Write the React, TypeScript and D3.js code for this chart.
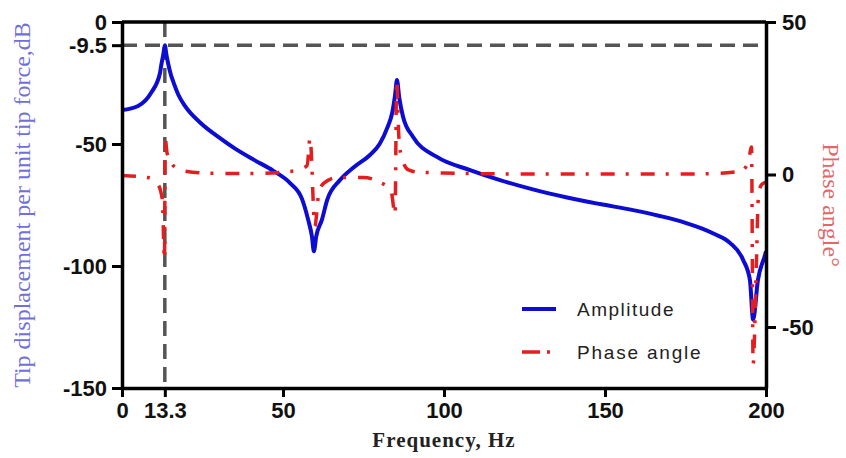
import React, { useEffect, useRef } from "react";
import * as d3 from "d3";

// amplitude curve (Hz, dB)
const ampFreq = [0, 5, 9, 11.8, 12.1, 12.9, 13.3, 13.8, 14.3, 15.2, 15.8, 17.5, 19.6, 24.5, 29.8, 35, 41, 47, 52.2, 55.9, 57.8, 59, 59.6, 60.3, 62.1, 63.7, 67.7, 72, 77, 80, 82.5, 83.9, 84.8, 85.4, 86.1, 87.3, 90.4, 97.8, 108.1, 117.4, 127.6, 138.2, 148.4, 158.7, 167, 175, 180, 184, 188.8, 192.9, 195, 196, 197.5, 199.7, 200];
const ampDb = [-36.1, -34.4, -29.1, -20.9, -18.4, -12.7, -9.5, -13.5, -16.8, -21.7, -24, -29.8, -34.5, -41.5, -47, -51.8, -56.5, -61, -66, -72.5, -81, -88, -94, -88, -81, -73, -64.8, -59.5, -54.5, -50, -43, -37.3, -30, -23.8, -31, -38.9, -47.1, -55.3, -60.7, -64.8, -68.6, -71.9, -74.6, -77.1, -79.5, -82.3, -84.6, -86.9, -90.5, -97.5, -105.7, -122, -105.7, -95.5, -94];

// phase angle curve (Hz, degrees)
const phaseFreq = [0, 8, 11, 12.5, 13.2, 13.4, 14, 15.5, 18, 25, 40, 50, 55, 57.5, 58.4, 59.9, 61, 62.5, 67, 75, 80, 83.5, 84.8, 85.3, 86, 87, 89, 92, 100, 120, 180, 192, 194.5, 195.5, 196, 197, 197.6, 198.5, 200];
const phaseDeg = [-0.3, -1, -3, -8, -28, 12, 7, 3.5, 1.5, 0.5, 0.3, 0.8, 1.5, 3, 12, -17, -7, -3, -1, -1, -2.5, -5, -13, 31, 12, 5, 1.5, 0.8, 0.5, 0.2, 0.2, 1, 4, 9, -62, -30, -8, -3.5, -2.5];

const freqTicks = [0, 13.3, 50, 100, 150, 200];
const ampTicks = [0, -9.5, -50, -100, -150];
const phaseTicks = [50, 0, -50];
const markFreq = 13.3;
const markAmp = -9.5;

const W = 846;
const H = 458;

export default function App() {
  const ref = useRef<SVGSVGElement>(null);

  useEffect(() => {
    const svg = d3.select(ref.current);
    svg.selectAll("*").remove();

    const left = 122, right = 766, top = 22, bottom = 388;
    const x = d3.scaleLinear().domain([0, 200]).range([left, right]);
    const yL = d3.scaleLinear().domain([-150, 0]).range([bottom, top]);
    const yR = d3.scaleLinear().domain([-70, 50]).range([bottom, top]);

    const tickFont = "'Liberation Sans', Arial, sans-serif";

    // reference dashed lines
    svg.append("line")
      .attr("x1", x(0)).attr("x2", x(200))
      .attr("y1", yL(markAmp)).attr("y2", yL(markAmp))
      .attr("stroke", "#555").attr("stroke-width", 3.5)
      .attr("stroke-dasharray", "15,8");
    svg.append("line")
      .attr("x1", x(markFreq)).attr("x2", x(markFreq))
      .attr("y1", yL(0)).attr("y2", yL(-150))
      .attr("stroke", "#555").attr("stroke-width", 3.5)
      .attr("stroke-dasharray", "15,8");

    // amplitude
    const ampLine = d3.line<number>()
      .x((_, i) => x(ampFreq[i]))
      .y(d => yL(d))
      .curve(d3.curveMonotoneX);
    svg.append("path")
      .attr("d", ampLine(ampDb))
      .attr("fill", "none")
      .attr("stroke", "#0c0cd2")
      .attr("stroke-width", 4)
      .attr("stroke-linejoin", "round");

    // phase
    const phaseLine = d3.line<number>()
      .x((_, i) => x(phaseFreq[i]))
      .y(d => yR(d))
      .curve(d3.curveMonotoneX);
    svg.append("path")
      .attr("d", phaseLine(phaseDeg))
      .attr("fill", "none")
      .attr("stroke", "#e41e1e")
      .attr("stroke-width", 3.5)
      .attr("stroke-dasharray", "14,11,3,12");

    // frame top
    svg.append("line")
      .attr("x1", left).attr("x2", right)
      .attr("y1", top).attr("y2", top)
      .attr("stroke", "#000").attr("stroke-width", 3.5);

    const styleAxis = (g: any) => {
      g.attr("font-size", 22).attr("font-family", tickFont).attr("font-weight", "bold");
      g.select(".domain").attr("stroke-width", 3.5);
      g.selectAll(".tick line").attr("stroke-width", 3);
      g.selectAll(".tick text").attr("fill", "#111");
    };

    svg.append("g")
      .attr("transform", `translate(${left},0)`)
      .call(d3.axisLeft(yL).tickValues(ampTicks).tickFormat(d => String(d)).tickSize(10).tickSizeOuter(0).tickPadding(5))
      .call(styleAxis);

    svg.append("g")
      .attr("transform", `translate(${right},0)`)
      .call(d3.axisRight(yR).tickValues(phaseTicks).tickFormat(d => String(d)).tickSize(10).tickSizeOuter(0).tickPadding(6))
      .call(styleAxis);

    svg.append("g")
      .attr("transform", `translate(0,${bottom})`)
      .call(d3.axisBottom(x).tickValues(freqTicks).tickFormat(d => String(d)).tickSize(9).tickSizeOuter(0).tickPadding(5))
      .call(styleAxis);

    // axis titles
    svg.append("text")
      .attr("x", (left + right) / 2).attr("y", 447)
      .attr("text-anchor", "middle")
      .attr("font-family", "'Liberation Serif', 'Times New Roman', serif")
      .attr("font-weight", "bold").attr("font-size", 21)
      .attr("letter-spacing", 1)
      .attr("fill", "#222")
      .text("Frequency, Hz");

    svg.append("text")
      .attr("transform", `translate(30,${(top + bottom) / 2}) rotate(-90)`)
      .attr("text-anchor", "middle")
      .attr("font-family", "'Liberation Serif', 'Times New Roman', serif")
      .attr("font-size", 24)
      .attr("fill", "#7070d8")
      .text("Tip displacement per unit tip force,dB");

    svg.append("text")
      .attr("transform", `translate(823,${(top + bottom) / 2}) rotate(90)`)
      .attr("text-anchor", "middle")
      .attr("font-family", "'Liberation Serif', 'Times New Roman', serif")
      .attr("font-size", 24)
      .attr("fill", "#e06868")
      .text("Phase angle°");

    // legend
    const legend = svg.append("g").attr("font-family", tickFont).attr("font-size", 19).attr("fill", "#222");
    legend.append("line")
      .attr("x1", 522).attr("x2", 556).attr("y1", 309).attr("y2", 309)
      .attr("stroke", "#0c0cd2").attr("stroke-width", 4);
    legend.append("text").attr("x", 577).attr("y", 309).attr("dy", "0.35em")
      .attr("letter-spacing", 1.5).text("Amplitude");
    legend.append("line")
      .attr("x1", 522).attr("x2", 552).attr("y1", 352).attr("y2", 352)
      .attr("stroke", "#e41e1e").attr("stroke-width", 3.5)
      .attr("stroke-dasharray", "18,7,3,20");
    legend.append("text").attr("x", 577).attr("y", 352).attr("dy", "0.35em")
      .attr("letter-spacing", 1.8).text("Phase angle");
  }, []);

  return (
    <svg
      ref={ref}
      width={W}
      height={H}
      style={{ position: "absolute", left: 0, top: 0, background: "#fff" }}
    />
  );
}
